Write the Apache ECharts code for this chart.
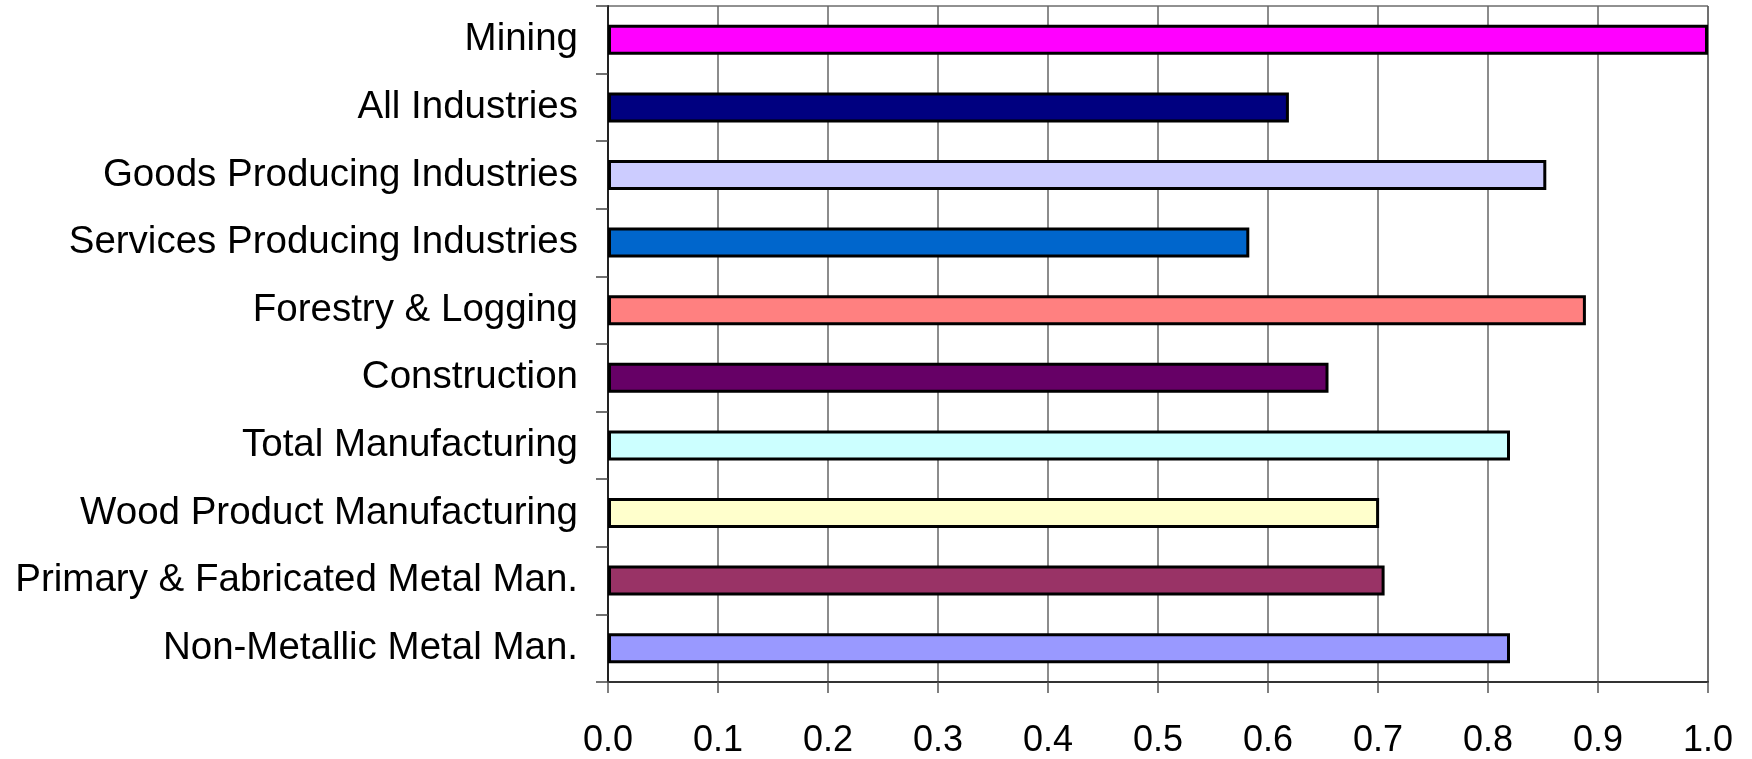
<!DOCTYPE html>
<html>
<head>
<meta charset="utf-8">
<script src="https://cdn.jsdelivr.net/npm/echarts@6/dist/echarts.min.js"></script>
<style>
html,body{margin:0;padding:0;background:#fff;}
#chart{width:1752px;height:759px;}
</style>
</head>
<body>
<div id="chart"></div>
<script>
const categories = [
  "Mining",
  "All Industries",
  "Goods Producing Industries",
  "Services Producing Industries",
  "Forestry & Logging",
  "Construction",
  "Total Manufacturing",
  "Wood Product Manufacturing",
  "Primary & Fabricated Metal Man.",
  "Non-Metallic Metal Man."
];
const values = [1.0, 0.619, 0.853, 0.583, 0.889, 0.655, 0.820, 0.701, 0.706, 0.820];
const barColors = ["#FF00FF", "#000080", "#CCCCFF", "#0066CC", "#FF8080", "#660066", "#CCFFFF", "#FFFFCC", "#993366", "#9999FF"];
const xTickLabels = ["0.0","0.1","0.2","0.3","0.4","0.5","0.6","0.7","0.8","0.9","1.0"];

const chart = echarts.init(document.getElementById('chart'), null, {renderer: 'canvas'});
chart.setOption({
  animation: false,
  backgroundColor: '#ffffff',
  grid: {left: 608, right: 44, top: 6, bottom: 73, show: true, borderColor: '#222', borderWidth: 1, containLabel: false},
  xAxis: {
    type: 'value', min: 0, max: 1, interval: 0.1,
    axisLine: {show: true, lineStyle: {color: '#333', width: 2}},
    axisTick: {show: true, length: 11, lineStyle: {color: '#555', width: 1.5}},
    splitLine: {show: true, lineStyle: {color: '#666', width: 1.5}},
    axisLabel: {
      margin: 41, color: '#000', fontSize: 36, fontFamily: 'Liberation Sans, Arial, sans-serif',
      formatter: function (v) { return xTickLabels[Math.round(v * 10)]; }
    }
  },
  yAxis: {
    type: 'category', data: categories, inverse: true,
    axisLine: {show: true, lineStyle: {color: '#222', width: 2}},
    axisTick: {show: true, length: 12, lineStyle: {color: '#444', width: 1.5}},
    axisLabel: {margin: 30, color: '#000', fontSize: 38.5, fontFamily: 'Liberation Sans, Arial, sans-serif'}
  },
  series: [{
    type: 'bar',
    data: values.map((v, i) => ({value: v, itemStyle: {color: barColors[i]}})),
    barWidth: 30,
    itemStyle: {borderColor: '#000', borderWidth: 3}
  }]
});
</script>
</body>
</html>
